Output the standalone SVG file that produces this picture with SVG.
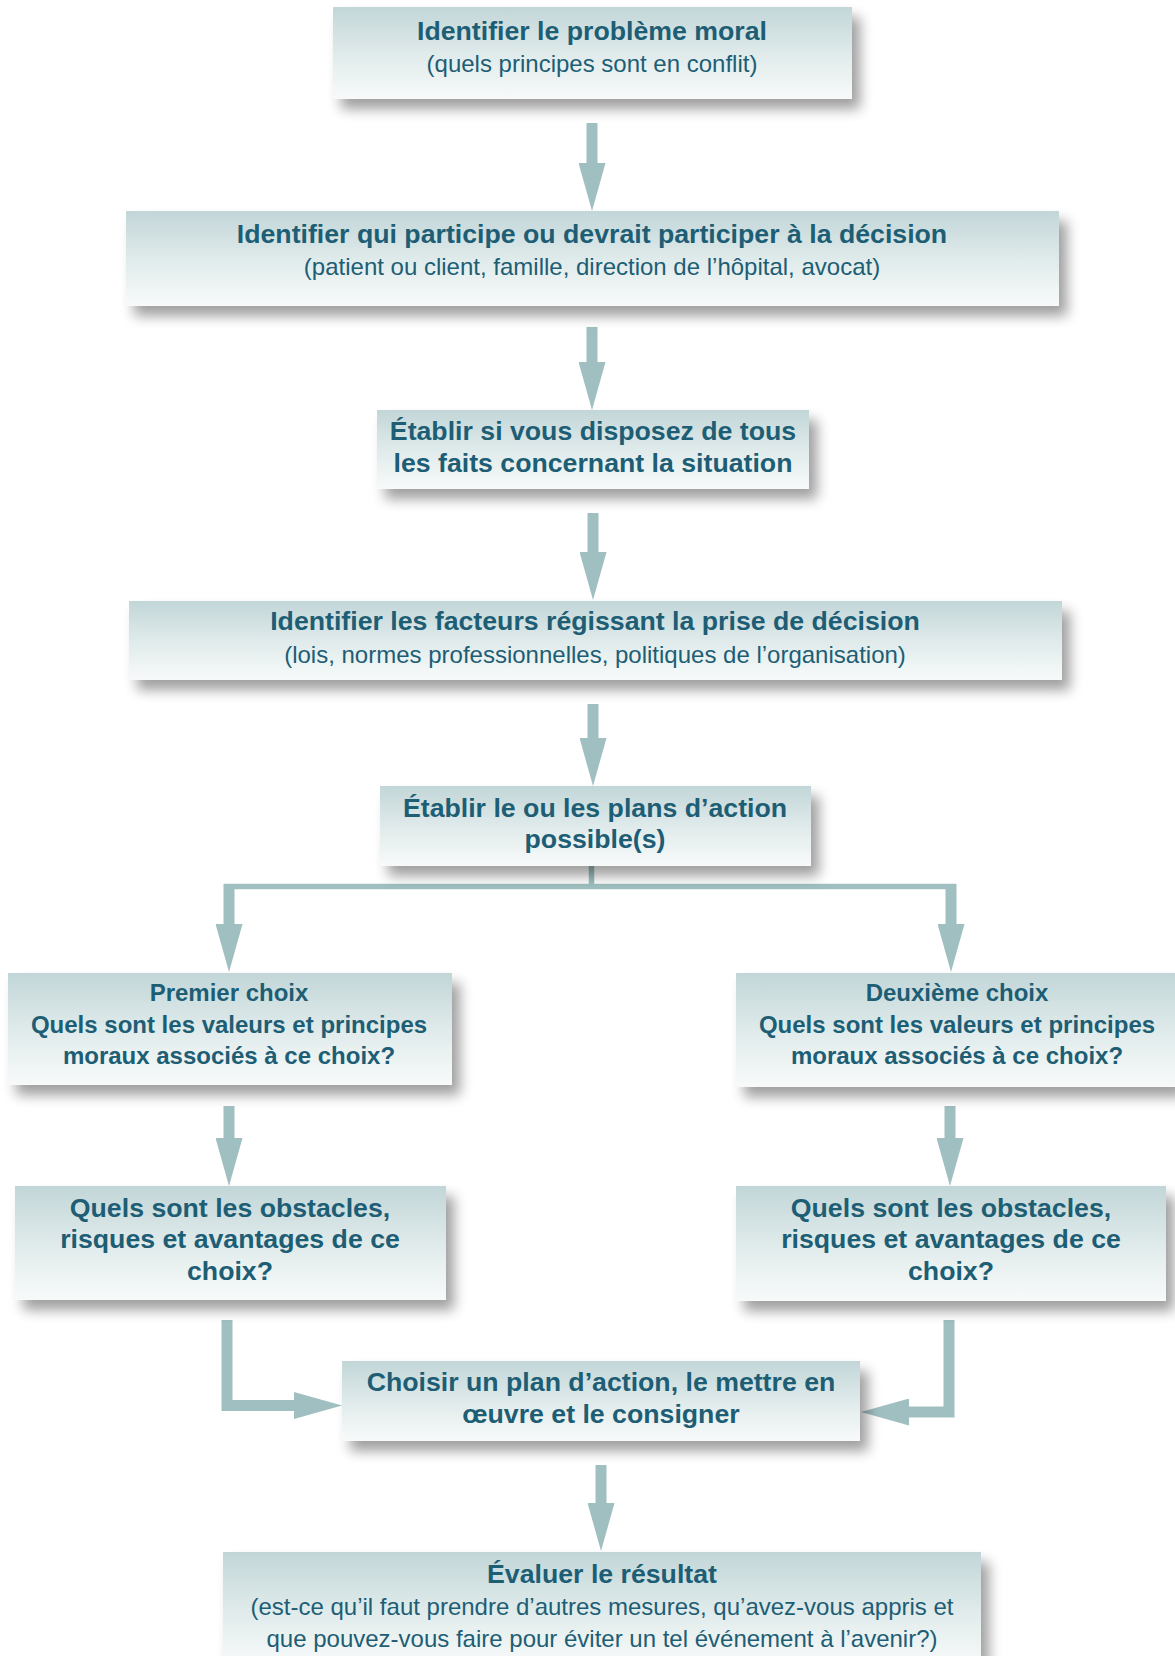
<svg xmlns="http://www.w3.org/2000/svg" width="1175" height="1656" viewBox="0 0 1175 1656">
<defs>
<linearGradient id="g" x1="0" y1="0" x2="0" y2="1">
<stop offset="0" stop-color="#c2d6d8"/>
<stop offset="0.55" stop-color="#e2ecec"/>
<stop offset="1" stop-color="#f8fafa"/>
</linearGradient>
<filter id="sh" x="-10%" y="-20%" width="125%" height="160%">
<feGaussianBlur in="SourceAlpha" stdDeviation="6.5"/>
<feOffset dx="8" dy="10" result="b"/>
<feComponentTransfer><feFuncA type="linear" slope="0.38"/></feComponentTransfer>
<feMerge><feMergeNode/><feMergeNode in="SourceGraphic"/></feMerge>
</filter>
<marker id="ah" viewBox="0 0 48 27" refX="0" refY="13.5" markerWidth="48" markerHeight="27" markerUnits="userSpaceOnUse" orient="auto">
<path d="M0,0 L48,13.5 L0,27 z" fill="#9fbfc0"/>
</marker>
</defs>
<style>
.box{fill:url(#g);filter:url(#sh)}
.t{font-family:"Liberation Sans",Arial,sans-serif;font-weight:bold;font-size:26.7px;fill:#1d5e75;text-anchor:middle}
.s{font-family:"Liberation Sans",Arial,sans-serif;font-size:24px;fill:#1d5e75;text-anchor:middle}
.m{font-family:"Liberation Sans",Arial,sans-serif;font-weight:bold;font-size:24px;fill:#1d5e75;text-anchor:middle}
.a{fill:none;stroke:#9fbfc0;stroke-width:11;marker-end:url(#ah)}
.l{fill:none;stroke:#9fbfc0;stroke-width:5.5}
</style>
<g id="connectors">
<path class="a" d="M592,123 V163"/>
<path class="a" d="M592,327 V362"/>
<path class="a" d="M593,513 V552"/>
<path class="a" d="M593,704 V738"/>
<path class="l" d="M591.5,866 V886.5 M224,886.5 H956"/>
<path class="a" d="M229,884 V924"/>
<path class="a" d="M951,884 V924"/>
<path class="a" d="M229,1106 V1138"/>
<path class="a" d="M950,1106 V1138"/>
<path class="a" style="stroke-linejoin:miter" d="M227,1320 V1405.5 H294"/>
<path class="a" style="stroke-linejoin:miter" d="M949,1320 V1412 H909"/>
<path class="a" d="M601,1465 V1503"/>
</g>
<g id="n1">
<rect class="box" x="333" y="7" width="519" height="92"/>
<text class="t" x="592" y="40">Identifier le problème moral</text>
<text class="s" x="592" y="72">(quels principes sont en conflit)</text>
</g>
<g id="n2">
<rect class="box" x="126" y="211" width="933" height="95"/>
<text class="t" x="592" y="243">Identifier qui participe ou devrait participer à la décision</text>
<text class="s" x="592" y="275">(patient ou client, famille, direction de l’hôpital, avocat)</text>
</g>
<g id="n3">
<rect class="box" x="377" y="410" width="432" height="79"/>
<text class="t" x="593" y="440">Établir si vous disposez de tous</text>
<text class="t" x="593" y="472">les faits concernant la situation</text>
</g>
<g id="n4">
<rect class="box" x="129" y="601" width="933" height="79"/>
<text class="t" x="595" y="630">Identifier les facteurs régissant la prise de décision</text>
<text class="s" x="595" y="663">(lois, normes professionnelles, politiques de l’organisation)</text>
</g>
<g id="n5">
<rect class="box" x="380" y="786" width="431" height="80"/>
<text class="t" x="595" y="817">Établir le ou les plans d’action</text>
<text class="t" x="595" y="848">possible(s)</text>
</g>
<g id="n6">
<rect class="box" x="8" y="973" width="444" height="112"/>
<text class="m" x="229" y="1001">Premier choix</text>
<text class="m" x="229" y="1033">Quels sont les valeurs et principes</text>
<text class="m" x="229" y="1064">moraux associés à ce choix?</text>
</g>
<g id="n7">
<rect class="box" x="736" y="973" width="442" height="114"/>
<text class="m" x="957" y="1001">Deuxième choix</text>
<text class="m" x="957" y="1033">Quels sont les valeurs et principes</text>
<text class="m" x="957" y="1064">moraux associés à ce choix?</text>
</g>
<g id="n8">
<rect class="box" x="15" y="1186" width="431" height="114"/>
<text class="t" x="230" y="1217">Quels sont les obstacles,</text>
<text class="t" x="230" y="1248">risques et avantages de ce</text>
<text class="t" x="230" y="1280">choix?</text>
</g>
<g id="n9">
<rect class="box" x="736" y="1186" width="430" height="115"/>
<text class="t" x="951" y="1217">Quels sont les obstacles,</text>
<text class="t" x="951" y="1248">risques et avantages de ce</text>
<text class="t" x="951" y="1280">choix?</text>
</g>
<g id="n10">
<rect class="box" x="342" y="1361" width="518" height="80"/>
<text class="t" x="601" y="1391">Choisir un plan d’action, le mettre en</text>
<text class="t" x="601" y="1423">œuvre et le consigner</text>
</g>
<g id="n11">
<rect class="box" x="223" y="1552" width="758" height="115"/>
<text class="t" x="602" y="1583">Évaluer le résultat</text>
<text class="s" x="602" y="1615">(est-ce qu’il faut prendre d’autres mesures, qu’avez-vous appris et</text>
<text class="s" x="602" y="1647">que pouvez-vous faire pour éviter un tel événement à l’avenir?)</text>
</g>
</svg>
